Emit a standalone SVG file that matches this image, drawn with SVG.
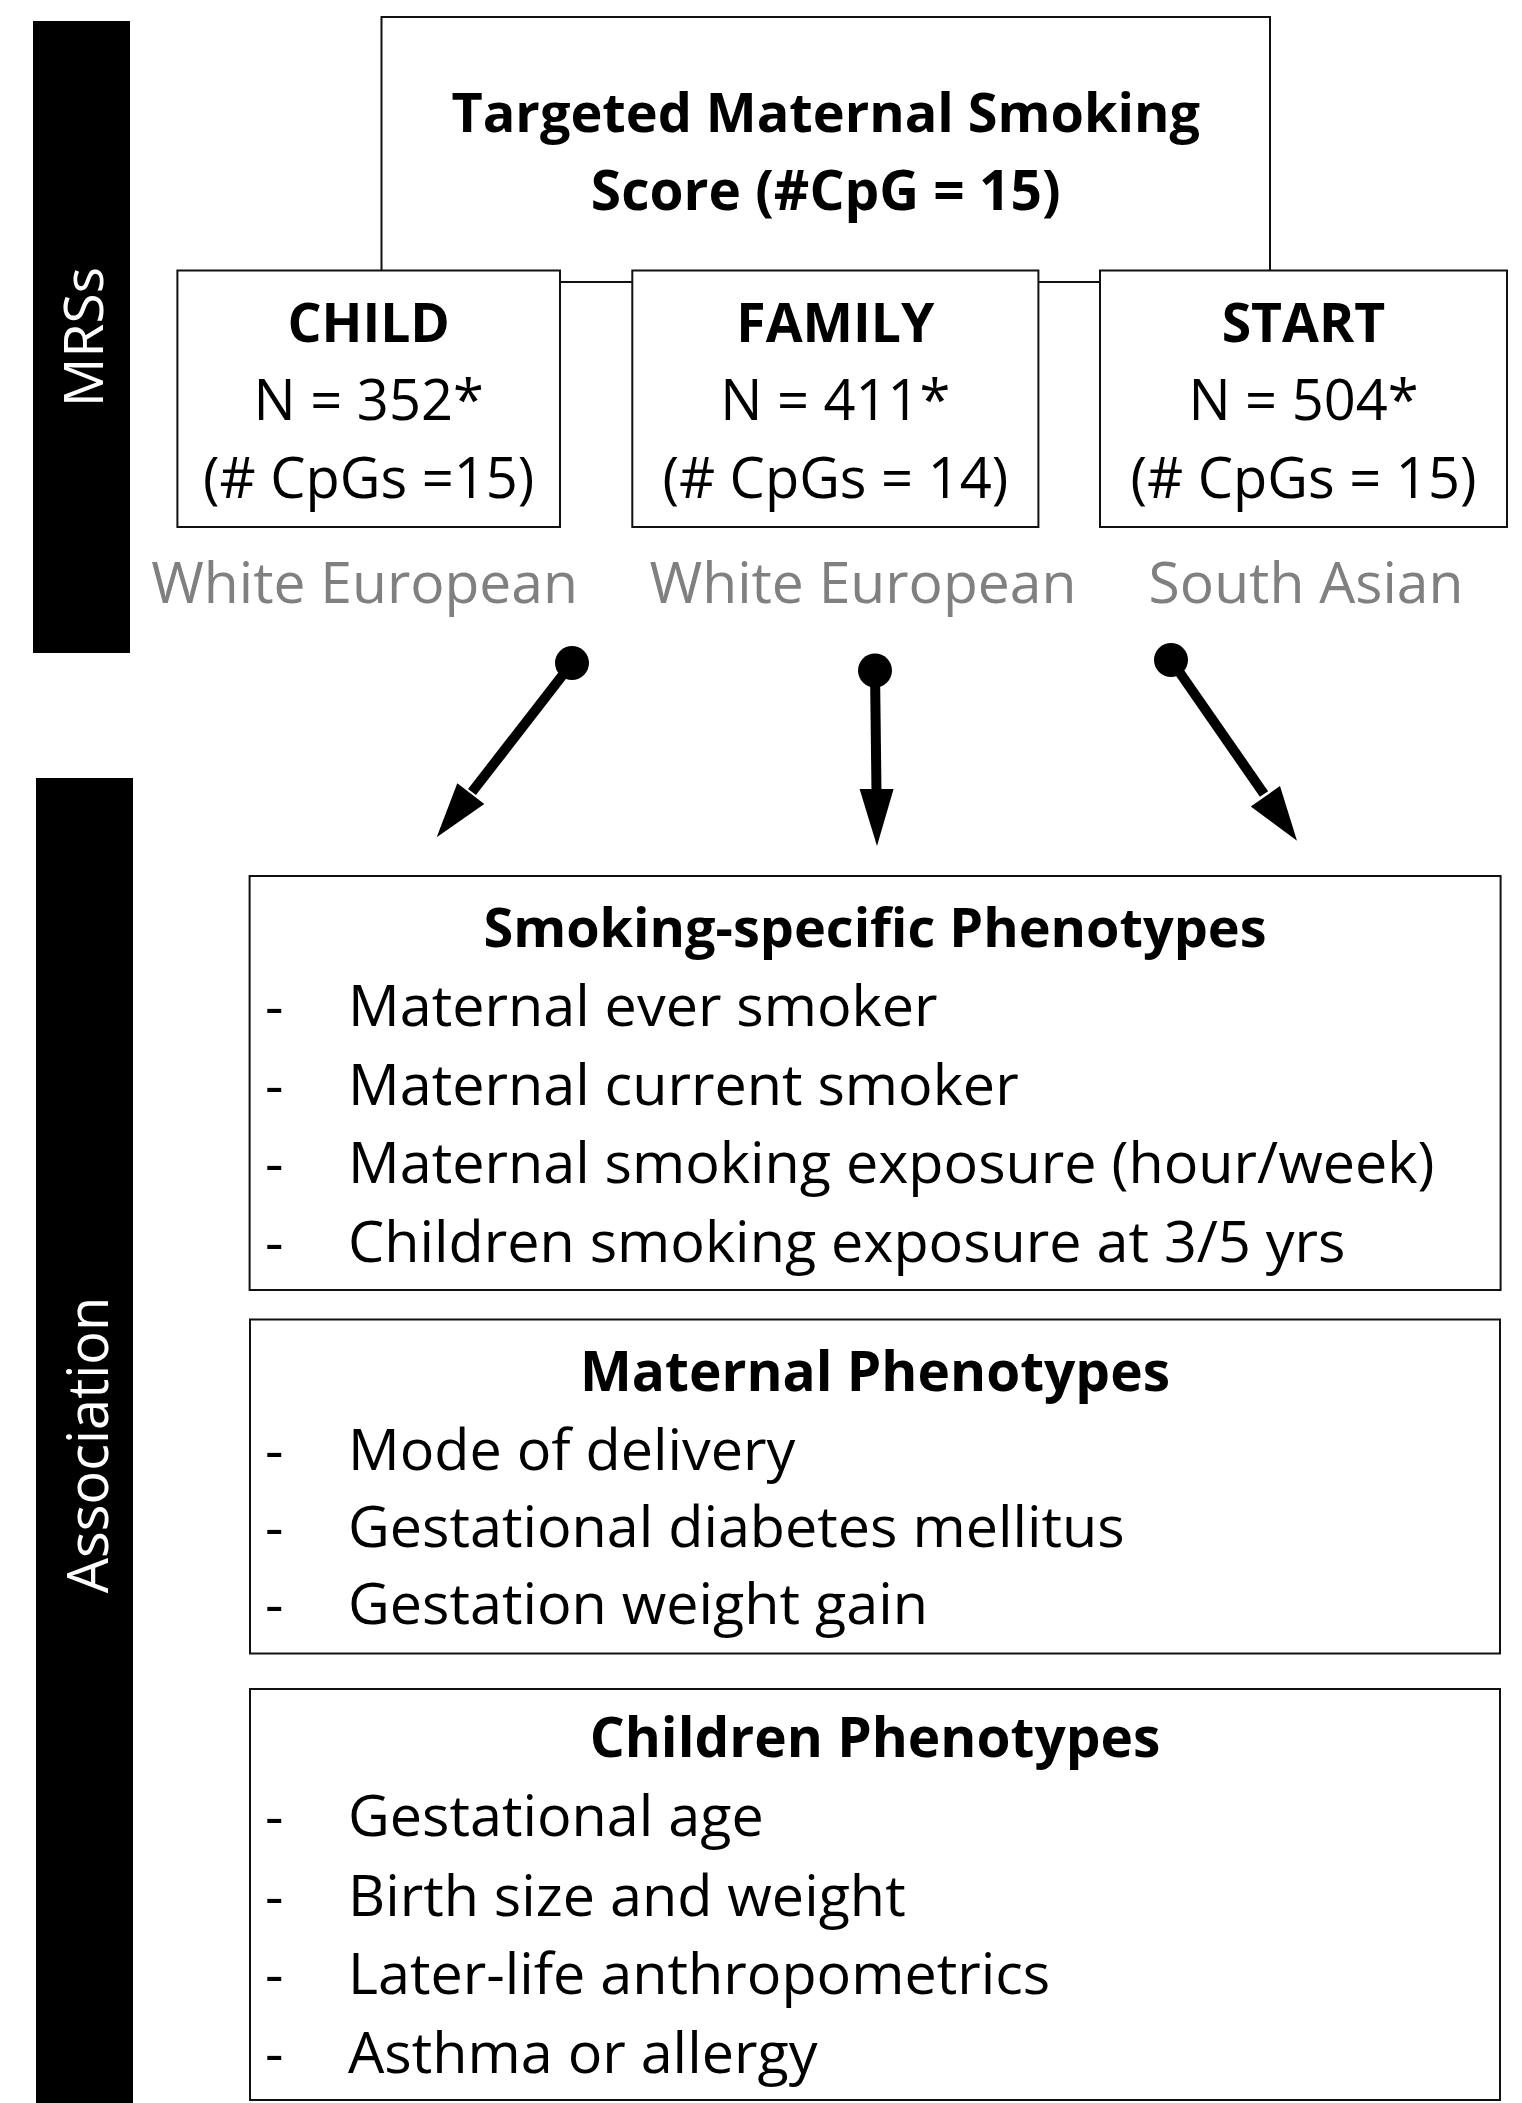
<svg xmlns="http://www.w3.org/2000/svg" width="1522" height="2103" viewBox="0 0 1522 2103">
<style>
.box{fill:#fff;stroke:#111;stroke-width:2}
.bar{fill:#000}
.side{font-family:"Open Sans","Noto Sans",sans-serif;fill:#fff;text-anchor:middle}
.t{font-family:"Open Sans","Noto Sans",sans-serif;fill:#000}
.b{font-weight:bold;text-anchor:middle}
.r{font-size:57.5px}
.n{font-size:56px;text-anchor:middle}
.g{font-family:"Open Sans","Noto Sans",sans-serif;fill:#808080;font-size:57px;text-anchor:middle}
.arr{stroke:#000;stroke-width:10;fill:none}
</style>
<rect class="bar" x="33" y="21" width="97" height="632"/>
<text class="side" font-size="55" transform="translate(103,337) rotate(-90)">MRSs</text>
<rect class="bar" x="36" y="778" width="97" height="1325"/>
<text class="side" font-size="56" transform="translate(108,1445) rotate(-90)">Association</text>

<g id="top-score">
<rect class="box" x="381.5" y="17" width="888.5" height="265"/>
<text class="t b" font-size="54" x="825.75" y="132">Targeted Maternal Smoking</text>
<text class="t b" font-size="55" x="825.75" y="210">Score (#CpG = 15)</text>
</g>
<g id="child">
<rect class="box" x="177.4" y="270.5" width="382.6" height="256.5"/>
<text class="t b" font-size="53.5" x="368.7" y="341.5">CHILD</text>
<text class="t n" x="368.7" y="420">N = 352*</text>
<text class="t n" x="368.7" y="498">(# CpGs =15)</text>
</g>
<g id="family">
<rect class="box" x="632.3" y="270.5" width="406.1" height="256.5"/>
<text class="t b" font-size="53.5" x="835.3" y="341.5">FAMILY</text>
<text class="t n" x="835.3" y="420">N = 411*</text>
<text class="t n" x="835.3" y="498">(# CpGs = 14)</text>
</g>
<g id="start">
<rect class="box" x="1100" y="270.5" width="407" height="256.5"/>
<text class="t b" font-size="53.5" x="1303.5" y="341.5">START</text>
<text class="t n" x="1303.5" y="420">N = 504*</text>
<text class="t n" x="1303.5" y="498">(# CpGs = 15)</text>
</g>
<g id="labels">
<text class="g" x="364.6" y="603">White European</text>
<text class="g" x="863" y="603">White European</text>
<text class="g" x="1306" y="603">South Asian</text>
</g>

<g id="connectors">
<circle cx="572" cy="663" r="17"/>
<line class="arr" x1="572" y1="663" x2="472" y2="792"/>
<polygon points="436.7,837.3 457.3,783.3 484.3,804"/>
<circle cx="875" cy="670.5" r="17"/>
<line class="arr" x1="875" y1="670.5" x2="876.5" y2="792"/>
<polygon points="877,846 859.6,789 893.6,789"/>
<circle cx="1171" cy="660" r="17"/>
<line class="arr" x1="1171" y1="660" x2="1264" y2="794"/>
<polygon points="1297,840.8 1250.8,806.6 1280,786"/>
</g>

<g id="smoking-phenotypes">
<rect class="box" x="249.6" y="876" width="1251" height="414"/>
<text class="t b" font-size="54" x="875" y="947">Smoking-specific Phenotypes</text>
<text class="t r" x="265" y="1026">-</text>
<text class="t r" x="348" y="1026">Maternal ever smoker</text>
<text class="t r" x="265" y="1105">-</text>
<text class="t r" x="348" y="1105">Maternal current smoker</text>
<text class="t r" x="265" y="1183">-</text>
<text class="t r" x="348" y="1183">Maternal smoking exposure (hour/week)</text>
<text class="t r" x="265" y="1262">-</text>
<text class="t r" x="348" y="1262">Children smoking exposure at 3/5 yrs</text>
</g>
<g id="maternal-phenotypes">
<rect class="box" x="250" y="1319.5" width="1250" height="334"/>
<text class="t b" font-size="55" x="875" y="1390.6">Maternal Phenotypes</text>
<text class="t r" x="265" y="1469.5">-</text>
<text class="t r" x="348" y="1469.5">Mode of delivery</text>
<text class="t r" x="265" y="1547">-</text>
<text class="t r" x="348" y="1547">Gestational diabetes mellitus</text>
<text class="t r" x="265" y="1624">-</text>
<text class="t r" x="348" y="1624">Gestation weight gain</text>
</g>
<g id="children-phenotypes">
<rect class="box" x="250" y="1689" width="1250" height="411"/>
<text class="t b" font-size="55" x="875" y="1756.5">Children Phenotypes</text>
<text class="t r" x="265" y="1836">-</text>
<text class="t r" x="348" y="1836">Gestational age</text>
<text class="t r" x="265" y="1915.7">-</text>
<text class="t r" x="348" y="1915.7">Birth size and weight</text>
<text class="t r" x="265" y="1994">-</text>
<text class="t r" x="348" y="1994">Later-life anthropometrics</text>
<text class="t r" x="265" y="2072.6">-</text>
<text class="t r" x="348" y="2072.6">Asthma or allergy</text>
</g>
</svg>
